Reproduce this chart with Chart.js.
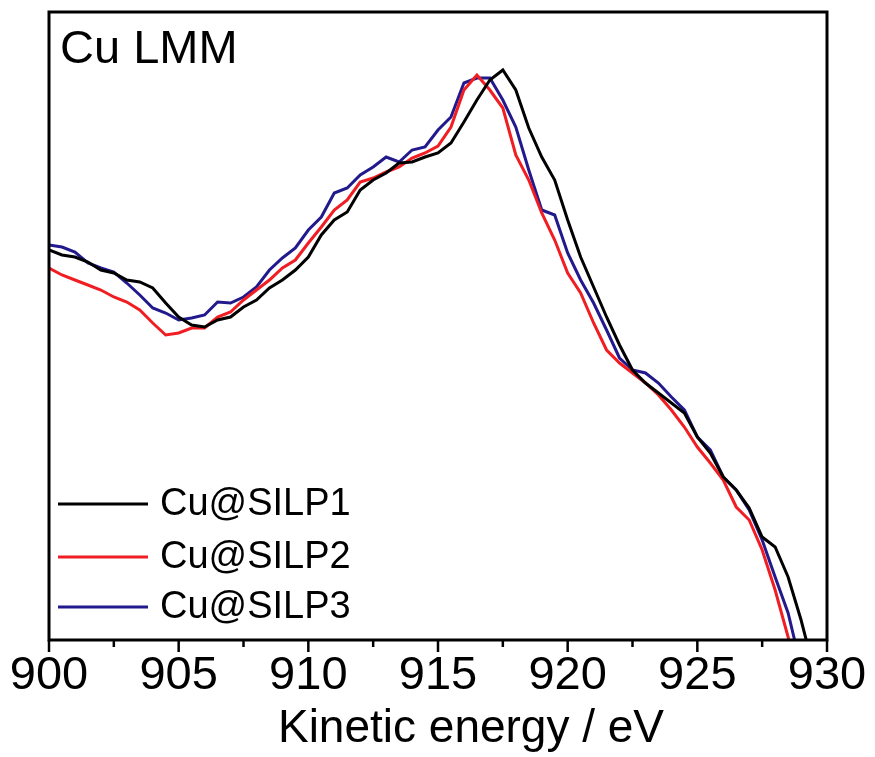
<!DOCTYPE html>
<html>
<head>
<meta charset="utf-8">
<script src="https://cdn.jsdelivr.net/npm/chart.js@4.4.0/dist/chart.umd.min.js"></script>
<style>
  html, body { margin: 0; padding: 0; background: #fff; }
  #wrap { width: 875px; height: 757px; }
</style>
</head>
<body>
<div id="wrap"><canvas id="augerChart" width="875" height="757"></canvas></div>
<script>
// kinetic energy grid, eV
const energies = [];
for (let i = 0; i <= 60; i++) energies.push(900 + i * 0.5);

// intensities (a.u.)
const silp1 = [390, 385, 383, 378, 370, 367, 360, 358, 352, 337,
  323, 315, 313, 320, 323, 333, 340, 352, 360, 370,
  383, 405, 420, 428, 450, 460, 467, 477, 478, 483,
  487, 497, 518, 540, 560, 570, 550, 512, 483, 460,
  420, 383, 353, 323, 295, 270, 257, 247, 237, 227,
  203, 187, 163, 150, 132, 103, 93, 63, 20, -30, null];
const silp2 = [372, 365, 360, 355, 350, 343, 338, 330, 317, 305,
  307, 312, 312, 323, 328, 340, 350, 360, 372, 380,
  397, 413, 430, 440, 458, 462, 468, 473, 482, 487,
  494, 513, 550, 565, 550, 532, 485, 460, 427, 400,
  367, 347, 317, 290, 277, 267, 257, 245, 230, 213,
  193, 177, 160, 133, 120, 90, 50, 3, -45, null, null];
const silp3 = [395, 393, 388, 377, 372, 368, 357, 345, 332, 327,
  320, 322, 325, 338, 337, 343, 353, 370, 382, 392,
  410, 423, 447, 452, 465, 473, 483, 478, 490, 493,
  510, 523, 557, 562, 562, 540, 513, 470, 430, 425,
  387, 360, 337, 310, 282, 270, 267, 257, 243, 230,
  203, 190, 163, 150, 130, 100, 63, 27, -27, null, null];

const seriesNames = ['Cu@SILP1', 'Cu@SILP2', 'Cu@SILP3'];
const seriesColors = ['#000000', '#f01e23', '#221a8c'];
const xTicks = [900, 905, 910, 915, 920, 925, 930];

const FONT = '"Liberation Sans", Arial, Helvetica, sans-serif';

function toPoints(vals) {
  return energies.map((e, i) => ({ x: e, y: vals[i] }));
}

// frame, tick marks, panel label, legend and axis title
const decorations = {
  id: 'decorations',
  afterDraw(chart) {
    const { ctx, chartArea: a } = chart;
    const xs = chart.scales.x;
    ctx.save();
    ctx.strokeStyle = '#000';
    ctx.lineWidth = 3;
    ctx.strokeRect(a.left, a.top, a.right - a.left, a.bottom - a.top);

    ctx.lineWidth = 2.5;
    for (let v = 900; v <= 930; v += 2.5) {
      const px = xs.getPixelForValue(v);
      const len = v % 5 === 0 ? 12 : 7;
      ctx.beginPath();
      ctx.moveTo(px, a.bottom);
      ctx.lineTo(px, a.bottom + len);
      ctx.stroke();
    }

    ctx.fillStyle = '#000';
    ctx.font = '47px ' + FONT;
    ctx.textBaseline = 'alphabetic';
    ctx.textAlign = 'left';
    ctx.fillText('Cu LMM', a.left + 11, a.top + 51);

    // legend
    ctx.font = '38px ' + FONT;
    ctx.textBaseline = 'middle';
    const rowY = [136, 83, 33];
    chart.data.datasets.forEach((ds, i) => {
      const y = a.bottom - rowY[i];
      ctx.strokeStyle = ds.borderColor;
      ctx.lineWidth = 3;
      ctx.beginPath();
      ctx.moveTo(a.left + 9, y);
      ctx.lineTo(a.left + 99, y);
      ctx.stroke();
      ctx.fillText(ds.label, a.left + 111, y + 1);
    });

    // x axis title
    ctx.font = '46px ' + FONT;
    ctx.textAlign = 'center';
    ctx.textBaseline = 'alphabetic';
    ctx.fillText('Kinetic energy / eV', (a.left + a.right) / 2 + 33, 742);
    ctx.restore();
  }
};

new Chart(document.getElementById('augerChart'), {
  type: 'line',
  data: {
    datasets: [
      {
        label: seriesNames[0],
        data: toPoints(silp1),
        borderColor: seriesColors[0],
        borderWidth: 3,
        pointRadius: 0,
        tension: 0,
        clip: 0
      },
      {
        label: seriesNames[1],
        data: toPoints(silp2),
        borderColor: seriesColors[1],
        borderWidth: 3,
        pointRadius: 0,
        tension: 0,
        clip: 0
      },
      {
        label: seriesNames[2],
        data: toPoints(silp3),
        borderColor: seriesColors[2],
        borderWidth: 3,
        pointRadius: 0,
        tension: 0,
        clip: 0
      }
    ]
  },
  options: {
    responsive: false,
    animation: false,
    layout: {
      padding: { left: 49, right: 48, top: 12, bottom: 0 }
    },
    plugins: {
      legend: { display: false },
      tooltip: { enabled: false }
    },
    scales: {
      x: {
        type: 'linear',
        min: 900,
        max: 930,
        afterBuildTicks(scale) {
          scale.ticks = xTicks.map(v => ({ value: v }));
        },
        afterFit(scale) {
          scale.height = 117;
        },
        grid: { display: false, drawTicks: false },
        border: { display: false },
        ticks: {
          color: '#000',
          padding: 8,
          maxRotation: 0,
          autoSkip: false,
          font: { family: FONT, size: 47 }
        }
      },
      y: {
        display: false,
        min: 0,
        max: 628
      }
    }
  },
  plugins: [decorations]
});
</script>
</body>
</html>
